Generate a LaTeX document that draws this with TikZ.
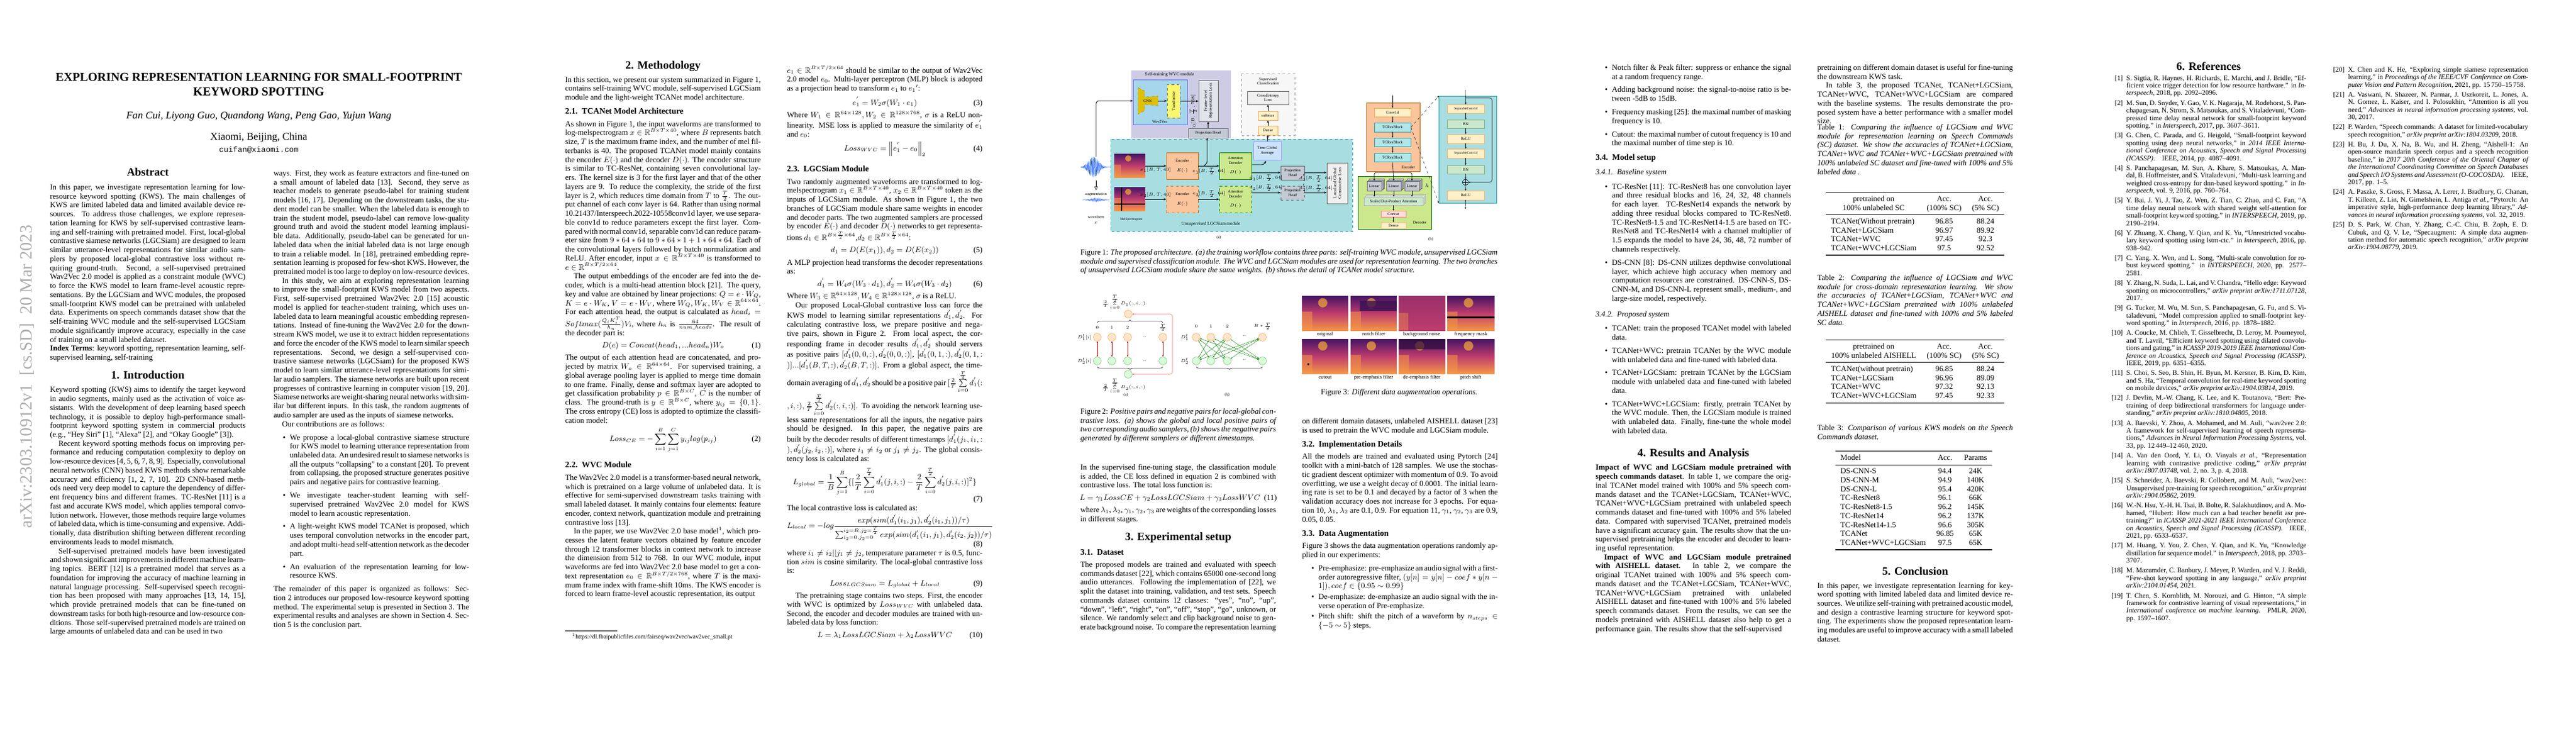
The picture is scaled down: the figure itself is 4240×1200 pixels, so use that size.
\documentclass[tikz,border=0pt]{standalone}
\usepackage{fontspec}
\usepackage{amsmath,amssymb}
\usepackage{booktabs}
\usepackage{enumitem}
\setmainfont{Liberation Serif}
\setmonofont{Liberation Mono}
\usetikzlibrary{arrows.meta,decorations.pathreplacing,calc}
\setlist[itemize]{leftmargin=2.1em,itemsep=5pt,topsep=5pt,parsep=0pt,partopsep=0pt,label=\textbullet}
\newcommand\bodyfont{\fontsize{9}{10.35}\selectfont}
\newcommand\figfont{\fontsize{4.6}{5.2}\selectfont}
\newcommand\secH[1]{\par\vspace{7pt}{\centering\fontsize{13}{15}\selectfont\bfseries #1\par}\vspace{5pt}}
\newcommand\subH[1]{\par\vspace{6pt}\noindent{\fontsize{9.6}{11}\selectfont\bfseries #1}\par\vspace{4pt}}
\newcommand\subsubH[1]{\par\vspace{3pt}\noindent{\itshape #1}\par\vspace{1pt}}
\newcommand\eqline[2]{\par\vspace{4pt}\noindent\makebox[\linewidth]{\hspace{2em}\hfill$\displaystyle #1$\hfill\makebox[2em][r]{#2}}\par\vspace{4pt}}
\newcommand\colnode[4]{\node[anchor=north west,inner sep=0pt] (#1) at (#2,#3) {\begin{minipage}[t]{226pt}\bodyfont\parindent=1.1em #4\end{minipage}};}
\newcommand\bibi[2]{\par\noindent\hangindent=18pt\hangafter=0 \llap{[#1]\hspace{4pt}}#2\par\vspace{2.6pt}}
\newcommand\bx[7][]{\node[#1,minimum width={(#5-#3)*0.70198pt},minimum height={(#6-#4)*0.70198pt}] (#2) at ({(#3+#5)/2},{(#4+#6)/2}) {#7};}
\definecolor{wvcbg}{RGB}{206,204,228}
\definecolor{tealbg}{RGB}{168,222,226}
\definecolor{tealdk}{RGB}{40,160,170}
\definecolor{wavbox}{RGB}{166,214,236}
\definecolor{cnny}{RGB}{222,192,10}
\definecolor{trany}{RGB}{250,246,110}
\definecolor{grayb}{RGB}{196,202,212}
\definecolor{encor}{RGB}{250,196,156}
\definecolor{decgr}{RGB}{204,232,140}
\definecolor{tgab}{RGB}{204,226,250}
\definecolor{lyel}{RGB}{255,240,200}
\definecolor{lcyan}{RGB}{178,230,232}
\definecolor{lgrn}{RGB}{204,232,204}
\definecolor{spA}{RGB}{70,20,100}
\definecolor{spB}{RGB}{190,60,110}
\definecolor{spC}{RGB}{245,150,70}
\newcommand\spec[5]{%
 \shade[top color=spA,bottom color=spC,middle color=spB] (#1,#2) rectangle (#3,#4);
 \fill[spC,opacity=.55] (#1,{#2+0.45*(#4-#2)}) rectangle ({#1+0.22*(#3-#1)},#4);
 \fill[spC!80!yellow,opacity=.7] ({#1+0.45*(#3-#1)},{#2+0.2*(#4-#2)}) circle ({0.1*(#3-#1)});
 #5}
\tikzset{
 fb/.style={draw,inner sep=0pt,font=\figfont,align=center,line width=0.4pt},
 arr/.style={-{Stealth[length=3pt,width=2.4pt]},line width=0.6pt},
 sarr/.style={-{Stealth[length=2pt,width=1.8pt]},line width=0.4pt},
 lbl/.style={font=\figfont,inner sep=0.5pt,align=center},
 circO/.style={circle,draw=orange!80,fill=orange!20,minimum size=9pt,inner sep=0pt,line width=0.3pt},
 circG/.style={circle,draw=green!50!black!60,fill=green!15,minimum size=9pt,inner sep=0pt,line width=0.3pt}
}
\begin{document}
\begin{tikzpicture}[x=0.70198pt,y=-0.70198pt]
\useasboundingbox (0,0) rectangle (4240,1200);
\fill[white] (0,0) rectangle (4240,1200);

%================ PAGE 1 =================
\node[rotate=90,text=gray!65,font=\fontsize{20}{20}\selectfont] (stamp) at (45,620) {arXiv:2303.10912v1\ \ [cs.SD]\ \ 20 Mar 2023};
\node[align=center,font=\fontsize{14}{16.5}\selectfont\bfseries] (title) at (426,139) {EXPLORING REPRESENTATION LEARNING FOR SMALL-FOOTPRINT\\KEYWORD SPOTTING};
\node[font=\fontsize{12}{14}\selectfont\itshape] (auth) at (426,191) {Fan Cui, Liyong Guo, Quandong Wang, Peng Gao, Yujun Wang};
\node[font=\fontsize{12}{14}\selectfont] (aff) at (426,226) {Xiaomi, Beijing, China};
\node[font=\fontsize{9}{10}\ttfamily] (mail) at (426,247) {cuifan@xiaomi.com};

\colnode{p1a}{82}{276}{%
{\centering\fontsize{13}{15}\selectfont\bfseries Abstract\par}\vspace{6pt}
\noindent In this paper, we investigate representation learning for low-resource keyword spotting (KWS). The main challenges of KWS are limited labeled data and limited available device resources. To address those challenges, we explore representation learning for KWS by self-supervised contrastive learning and self-training with pretrained model. First, local-global contrastive siamese networks (LGCSiam) are designed to learn similar utterance-level representations for similar audio samplers by proposed local-global contrastive loss without requiring ground-truth. Second, a self-supervised pretrained Wav2Vec 2.0 model is applied as a constraint module (WVC) to force the KWS model to learn frame-level acoustic representations. By the LGCSiam and WVC modules, the proposed small-footprint KWS model can be pretrained with unlabeled data. Experiments on speech commands dataset show that the self-training WVC module and the self-supervised LGCSiam module significantly improve accuracy, especially in the case of training on a small labeled dataset.\par
\noindent\textbf{Index Terms}: keyword spotting, representation learning, self-supervised learning, self-training
\secH{1. Introduction}
\noindent Keyword spotting (KWS) aims to identify the target keyword in audio segments, mainly used as the activation of voice assistants. With the development of deep learning based speech technology, it is possible to deploy high-performance small-footprint keyword spotting system in commercial products (e.g., ``Hey Siri'' [1], ``Alexa'' [2], and ``Okay Google'' [3]).

Recent keyword spotting methods focus on improving performance and reducing computation complexity to deploy on low-resource devices [4, 5, 6, 7, 8, 9]. Especially, convolutional neural networks (CNN) based KWS methods show remarkable accuracy and efficiency [1, 2, 7, 10]. 2D CNN-based methods need very deep model to capture the dependency of different frequency bins and different frames. TC-ResNet [11] is a fast and accurate KWS model, which applies temporal convolution network. However, those methods require large volumes of labeled data, which is time-consuming and expensive. Additionally, data distribution shifting between different recording environments leads to model mismatch.

Self-supervised pretrained models have been investigated and shown significant improvements in different machine learning topics. BERT [12] is a pretrained model that serves as a foundation for improving the accuracy of machine learning in natural language processing. Self-supervised speech recognition has been proposed with many approaches [13, 14, 15], which provide pretrained models that can be fine-tuned on downstream tasks for both high-resource and low-resource conditions. Those self-supervised pretrained models are trained on large amounts of unlabeled data and can be used in two}

\colnode{p1b}{450}{280}{%
\noindent ways. First, they work as feature extractors and fine-tuned on a small amount of labeled data [13]. Second, they serve as teacher models to generate pseudo-label for training student models [16, 17]. Depending on the downstream tasks, the student model can be smaller. When the labeled data is enough to train the student model, pseudo-label can remove low-quality ground truth and avoid the student model learning implausible data. Additionally, pseudo-label can be generated for unlabeled data when the initial labeled data is not large enough to train a reliable model. In [18], pretrained embedding representation learning is proposed for few-shot KWS. However, the pretrained model is too large to deploy on low-resource devices.

In this study, we aim at exploring representation learning to improve the small-footprint KWS model from two aspects. First, self-supervised pretrained Wav2Vec 2.0 [15] acoustic model is applied for teacher-student training, which uses unlabeled data to learn meaningful acoustic embedding representations. Instead of fine-tuning the Wav2Vec 2.0 for the downstream KWS model, we use it to extract hidden representations and force the encoder of the KWS model to learn similar speech representations. Second, we design a self-supervised contrastive siamese networks (LGCSiam) for the proposed KWS model to learn similar utterance-level representations for similar audio samplers. The siamese networks are built upon recent progresses of contrastive learning in computer vision [19, 20]. Siamese networks are weight-sharing neural networks with similar but different inputs. In this task, the random augments of audio sampler are used as the inputs of siamese networks.

Our contributions are as follows:
\begin{itemize}
\item We propose a local-global contrastive siamese structure for KWS model to learning utterance representation from unlabeled data. An undesired result to siamese networks is all the outputs ``collapsing'' to a constant [20]. To prevent from collapsing, the proposed structure generates positive pairs and negative pairs for contrastive learning.
\item We investigate teacher-student learning with self-supervised pretrained Wav2Vec 2.0 model for KWS model to learn acoustic representation.
\item A light-weight KWS model TCANet is proposed, which uses temporal convolution networks in the encoder part, and adopt multi-head self-attention network as the decoder part.
\item An evaluation of the representation learning for low-resource KWS.
\end{itemize}
The remainder of this paper is organized as follows: Section 2 introduces our proposed low-resource keyword spotting method. The experimental setup is presented in Section 3. The experimental results and analyses are shown in Section 4. Section 5 is the conclusion part.}

%================ PAGE 2 =================
\colnode{p2a}{930}{100}{%
{\centering\fontsize{13}{15}\selectfont\bfseries 2. Methodology\par}\vspace{5pt}
\noindent In this section, we present our system summarized in Figure 1, contains self-training WVC module, self-supervised LGCSiam module and the light-weight TCANet model architecture.
\subH{2.1.\ \ TCANet Model Architecture}
\noindent As shown in Figure 1, the input waveforms are transformed to log-melspectrogram $x\in\mathbb{R}^{B\times T\times 40}$, where $B$ represents batch size, $T$ is the maximum frame index, and the number of mel filterbanks is 40. The proposed TCANet model mainly contains the encoder $E(\cdot)$ and the decoder $D(\cdot)$. The encoder structure is similar to TC-ResNet, containing seven convolutional layers. The kernel size is 3 for the first layer and that of the other layers are 9. To reduce the complexity, the stride of the first layer is 2, which reduces time domain from $T$ to $\frac{T}{2}$. The output channel of each conv layer is 64. Rather than using normal 10.21437/Interspeech.2022-10558conv1d layer, we use separable conv1d to reduce parameters except the first layer. Compared with normal conv1d, separable conv1d can reduce parameter size from $9*64*64$ to $9*64*1+1*64*64$. Each of the convolutional layers followed by batch normalization and ReLU. After encoder, input $x\in\mathbb{R}^{B\times T\times 40}$ is transformed to $e\in\mathbb{R}^{B\times T/2\times 64}$.

The output embeddings of the encoder are fed into the decoder, which is a multi-head attention block [21]. The query, key and value are obtained by linear projections: $Q=e\cdot W_Q$, $K=e\cdot W_K$, $V=e\cdot W_V$, where $W_Q,W_K,W_V\in\mathbb{R}^{64\times 64}$. For each attention head, the output is calculated as $head_i = Softmax(\frac{Q_iK_i^T}{h_n})V_i$, where $h_n$ is $\frac{64}{num\_heads}$. The result of the decoder part is:
\eqline{D(e)=Concat(head_1,...head_n)W_o}{(1)}
\noindent The output of each attention head are concatenated, and projected by matrix $W_o\in\mathbb{R}^{64\times 64}$. For supervised training, a global average pooling layer is applied to merge time domain to one frame. Finally, dense and softmax layer are adopted to get classification probability $p\in\mathbb{R}^{B\times C}$, $C$ is the number of class. The ground-truth is $y\in\mathbb{R}^{B\times C}$, where $y_{ij}=\{0,1\}$. The cross entropy (CE) loss is adopted to optimize the classification model:
\eqline{Loss_{CE}=-\sum_{i=1}^{B}\sum_{j=1}^{C}y_{ij}log(p_{ij})}{(2)}
\subH{2.2.\ \ WVC Module}
\noindent The Wav2Vec 2.0 model is a transformer-based neural network, which is pretrained on a large volume of unlabeled data. It is effective for semi-supervised downstream tasks training with small labeled dataset. It mainly contains four elements: feature encoder, context network, quantization module and pretraining contrastive loss [13].

In the paper, we use Wav2Vec 2.0 base model$^1$, which processes the latent feature vectors obtained by feature encoder through 12 transformer blocks in context network to increase the dimension from 512 to 768. In our WVC module, input waveforms are fed into Wav2Vec 2.0 base model to get a context representation $e_0\in\mathbb{R}^{B\times T/2\times 768}$, where $T$ is the maximum frame index with frame-shift 10ms. The KWS encoder is forced to learn frame-level acoustic representation, its output}
\node[anchor=north west,inner sep=0pt] (fn) at (930,1038) {\begin{minipage}{226pt}\rule{60pt}{0.4pt}\\[1pt]\fontsize{7}{8}\selectfont\hspace*{8pt}$^1$https://dl.fbaipublicfiles.com/fairseq/wav2vec/wav2vec\_small.pt\end{minipage}};

\colnode{p2b}{1295}{108}{%
\noindent $e_1\in\mathbb{R}^{B\times T/2\times 64}$ should be similar to the output of Wav2Vec 2.0 model $e_0$. Multi-layer perceptron (MLP) block is adopted as a projection head to transform $e_1$ to ${e_1}'$:
\eqline{e_1^{'}=W_2\sigma(W_1\cdot e_1)}{(3)}
\noindent Where $W_1\in\mathbb{R}^{64\times 128},W_2\in\mathbb{R}^{128\times 768}$, $\sigma$ is a ReLU non-linearity. MSE loss is applied to measure the similarity of $e_1^{'}$ and $e_0$:
\eqline{Loss_{WVC}=\left\|e_1^{'}-e_0\right\|_2}{(4)}
\subH{2.3.\ \ LGCSiam Module}
\noindent Two randomly augmented waveforms are transformed to log-melspectrogram $x_1\in\mathbb{R}^{B\times T\times 40}$, $x_2\in\mathbb{R}^{B\times T\times 40}$ token as the inputs of LGCSiam module. As shown in Figure 1, the two branches of LGCSiam module share same weights in encoder and decoder parts. The two augmented samplers are processed by encoder $E(\cdot)$ and decoder $D(\cdot)$ networks to get representations $d_1\in\mathbb{R}^{B\times\frac{T}{2}\times 64}$,$d_2\in\mathbb{R}^{B\times\frac{T}{2}\times 64}$:
\eqline{d_1=D(E(x_1)),d_2=D(E(x_2))}{(5)}
\noindent A MLP projection head transforms the decoder representations as:
\eqline{d_1^{'}=W_4\sigma(W_3\cdot d_1),d_2^{'}=W_4\sigma(W_3\cdot d_2)}{(6)}
\noindent Where $W_3\in\mathbb{R}^{64\times 128},W_4\in\mathbb{R}^{128\times 128}$, $\sigma$ is a ReLU.

Our proposed Local-Global contrastive loss can force the KWS model to learning similar representations $d_1^{'},d_2^{'}$. For calculating contrastive loss, we prepare positive and negative pairs, shown in Figure 2. From local aspect, the corresponding frame in decoder results $d_1^{'},d_2^{'}$ should servers as positive pairs $[d_1^{'}(0,0,:),d_2^{'}(0,0,:)]$, $[d_1^{'}(0,1,:),d_2^{'}(0,1,:)]...[d_1^{'}(B,T,:),d_2^{'}(B,T,:)]$. From a global aspect, the time-domain averaging of $d_1^{'},d_2^{'}$ should be a positive pair $[\frac{2}{T}\sum\limits_{i=0}^{\frac{T}{2}}d_1^{'}(:,i,:),\frac{2}{T}\sum\limits_{i=0}^{\frac{T}{2}}d_2^{'}(:,i,:)]$. To avoiding the network learning useless same representations for all the inputs, the negative pairs should be designed. In this paper, the negative pairs are built by the decoder results of different timestamps $[d_1^{'}(j_1,i_1,:),d_2^{'}(j_2,i_2,:)]$, where $i_1\neq i_2$ or $j_1\neq j_2$. The global consistency loss is calculated as:
\eqline{L_{global}=\frac{1}{B}\sum_{j=1}^{B}\{[\frac{2}{T}\sum_{i=0}^{\frac{T}{2}}d_1^{'}(j,i,:)-\frac{2}{T}\sum_{i=0}^{\frac{T}{2}}d_2^{'}(j,i,:)]^2\}}{}
\vspace{-4pt}\noindent\hfill(7)\par
\noindent The local contrastive loss is calculated as:
\par\vspace{4pt}\noindent\makebox[\linewidth][l]{$\displaystyle L_{local}=-log\frac{exp(sim(d_1^{'}(i_1,j_1),d_2^{'}(i_1,j_1))/\tau)}{\sum_{i_2=0,j_2=0}^{i_2=B,j_2=\frac{T}{2}}exp(sim(d_1^{'}(i_1,j_1),d_2^{'}(i_2,j_2))/\tau)}$}\par
\noindent\hfill(8)\par
\noindent where $i_1\neq i_2||j_1\neq j_2$, temperature parameter $\tau$ is 0.5, function $sim$ is cosine similarity. The local-global contrastive loss is:
\eqline{Loss_{LGCSiam}=L_{global}+L_{local}}{(9)}
The pretraining stage contains two steps. First, the encoder with WVC is optimized by $Loss_{WVC}$ with unlabeled data. Second, the encoder and decoder modules are trained with unlabeled data by loss function:
\eqline{L=\lambda_1LossLGCSiam+\lambda_2LossWVC}{(10)}}

%================ PAGE 3 : Figure 1 =================
\fill[wvcbg] (1862,116) rectangle (2026,228);
\node[lbl,font=\fontsize{5.2}{6}\selectfont] (wvct) at (1925,123) {Self-training WVC module};
\fill[tealbg] (1828,229) rectangle (2226,381);
\draw[tealdk,dashed,line width=0.4pt] (1828,229) rectangle (2226,381);
\node[lbl,font=\fontsize{5.2}{6}\selectfont] (lgct) at (1993,369) {Unsupervised LGCSiam module};
\bx[fb,draw=blue!60,fill=wavbox]{w2v}{1865}{131}{1954}{205}{}
\node[lbl] (w2vl) at (1909,200) {Wav2Vec};
\filldraw[fill=cnny,draw=cnny!70!black,dashed,line width=0.3pt] (1873,144) -- (1884,150) -- (1884,160) -- (1906,158) -- (1906,174) -- (1884,172) -- (1884,182) -- (1873,188) -- cycle;
\node[lbl] (cnn) at (1889,166) {CNN};
\bx[fb,fill=trany,dashed,draw=black!60]{trf}{1921}{139}{1942}{194}{}
\node[lbl,rotate=90] (trft) at (trf) {Transformer};
\bx[fb,fill=grayb!50,draw=black!60]{frl}{1973}{132}{2005}{200}{}
\node[lbl,rotate=90,font=\fontsize{5}{5.6}\selectfont] (frlt) at (frl) {Frame-level\\Representation Loss};
\node[lbl,rotate=90,font=\fontsize{3.6}{4}\selectfont] (e0l) at (1964,185) {$e_0[B,\frac{T}{2},768]$};
\bx[fb,fill=grayb,draw=black!60]{ph0}{1956}{211}{2021}{227}{Projection Head}
\draw[dashed,draw=black!40,fill=gray!6] (2043,121) rectangle (2131,223);
\node[lbl] (supt) at (2087,134) {Supervised\\Classification};
\bx[fb,fill=gray!12,draw=black!60]{ce}{2053}{150}{2121}{172}{CrossEntropy\\Loss}
\bx[fb,fill=lyel,draw=orange!70]{smx}{2071}{183}{2103}{198}{softmax}
\bx[fb,fill=lyel,draw=orange!70]{dns}{2071}{207}{2103}{222}{Dense}
\bx[fb,fill=tgab,draw=blue!40]{tga}{2063}{233}{2109}{263}{Time Global\\Average}
\draw[arr] (trf.east) -- (frl.west |- trf.east);
\draw[arr] (1906,166) -- (trf.west |- 0,166);
\draw[arr] (ph0.north) -- (ph0.north |- frl.south);
\draw[arr] (dns.north) -- (smx.south);
\draw[arr] (smx.north) -- (ce.south);
\draw[arr] (tga.north) -- (dns.south);
% waveform
\draw[blue!70!cyan,line width=0.35pt] plot[domain=1779:1828,samples=140] (\x,{275+17*exp(-((\x-1800)/11)^2)*sin((\x-1779)*157)});
\draw[blue!70!cyan,line width=0.3pt] plot[domain=1782:1826,samples=90] (\x,{329+3*exp(-((\x-1804)/12)^2)*sin((\x-1779)*157)});
\coordinate (wtop) at (1804,258);
\draw[arr,rounded corners=3pt] (wtop) -- (1804,166) -- (w2v.west |- 0,166);
\draw[-{Triangle[open,length=4pt,width=4pt]},line width=0.4pt] (1804,297) -- (1804,313);
\node[lbl] (augl) at (1804,320) {augmentation};
\node[lbl] (wavl) at (1804,357) {waveform};
\node[lbl] (xl) at (1804,367) {$x$};
\spec{1834}{253}{1885}{292}{}
\spec{1834}{308}{1885}{347}{\draw[black,line width=1.2pt] (1846,308) -- (1846,347); \draw[black,line width=1.2pt] (1834,336) -- (1885,336);}
\coordinate (sp1) at (1885,273);
\coordinate (sp2) at (1885,328);
\node[lbl,font=\fontsize{3.8}{4}\selectfont] (mell) at (1862,361) {MelSpectrogram};
\bx[fb,fill=encor,draw=orange!80!black]{enc1}{1920}{251}{1972}{295}{Encoder\\[6pt]$E(\cdot)$}
\bx[fb,fill=encor,draw=orange!80!black,dashed]{enc2}{1920}{306}{1972}{350}{Encoder\\[6pt]$E(\cdot)$}
\bx[fb,fill=decgr,draw=green!50!black]{dec1}{2007}{251}{2060}{295}{Attention\\Decoder\\[6pt]$D(\cdot)$}
\bx[fb,fill=decgr,draw=green!50!black,dashed]{dec2}{2007}{306}{2060}{350}{Attention\\Decoder\\[6pt]$D(\cdot)$}
\bx[fb,fill=grayb,draw=black!60]{ph1}{2108}{273}{2147}{296}{Projection\\Head}
\bx[fb,fill=grayb,draw=black!60,dashed]{ph2}{2108}{306}{2147}{329}{Projection\\Head}
\bx[fb,fill=gray!12,draw=black!60]{lgl}{2184}{268}{2218}{335}{}
\node[lbl,rotate=90,font=\fontsize{5}{5.6}\selectfont] (lglt) at (lgl) {Local and Global\\Constractive Loss};
\draw[arr] (sp1) -- (enc1.west |- sp1);
\draw[arr] (sp2) -- (enc2.west |- sp2);
\draw[arr] (enc1.east |- 0,273) -- (dec1.west |- 0,273);
\draw[arr] (enc2.east |- 0,328) -- (dec2.west |- 0,328);
\draw[arr,rounded corners=2pt] (1982,273) -- (1987,268) -- (1987,227);
\draw[arr,rounded corners=2pt] (dec1.east |- 0,271) -- (2080,271) -- (2084,265);
\draw[arr] (dec1.east |- 0,284) -- (ph1.west |- 0,284);
\draw[arr] (dec2.east |- 0,317) -- (ph2.west |- 0,317);
\draw[arr] (ph1.east |- 0,284) -- (lgl.west |- 0,284);
\draw[arr] (ph2.east |- 0,317) -- (lgl.west |- 0,317);
\node[lbl,font=\fontsize{3.6}{4}\selectfont] (x1l) at (1902,280) {$x_1[B,T,40]$};
\node[lbl,font=\fontsize{3.6}{4}\selectfont] (x2l) at (1902,321) {$x_2[B,T,40]$};
\node[lbl,font=\fontsize{3.6}{4}\selectfont] (e1l) at (1990,282) {$e_1[B,\frac{T}{2},64]$};
\node[lbl,font=\fontsize{3.6}{4}\selectfont] (e2l) at (1990,319) {$e_2[B,\frac{T}{2},64]$};
\node[lbl,font=\fontsize{3.6}{4}\selectfont] (d1l) at (2084,293) {$d_1[B,\frac{T}{2},64]$};
\node[lbl,font=\fontsize{3.6}{4}\selectfont] (d2l) at (2084,309) {$d_2[B,\frac{T}{2},64]$};
\node[lbl,font=\fontsize{3.6}{4}\selectfont] (d1pl) at (2166,293) {$d_1^{'}[B,\frac{T}{2},64]$};
\node[lbl,font=\fontsize{3.6}{4}\selectfont] (d2pl) at (2166,309) {$d_2^{'}[B,\frac{T}{2},64]$};
\node[lbl] (fa) at (2006,391) {(a)};
% (b)
\fill[encor] (2249,169) rectangle (2337,282); \draw[orange!70!black,line width=0.3pt] (2249,169) rectangle (2337,282);
\node[lbl] (encl) at (2318,275) {Encoder};
\bx[fb,fill=lyel,draw=orange!70]{cv}{2262}{178}{2322}{192}{Conv1d}
\bx[fb,fill=lcyan,draw=tealdk]{tc1}{2262}{202}{2322}{217}{TCResBlock}
\bx[fb,fill=lcyan,draw=tealdk]{tc2}{2262}{227}{2322}{241}{TCResBlock}
\bx[fb,fill=lcyan,draw=tealdk]{tc3}{2262}{252}{2322}{266}{TCResBlock}
\coordinate (bin) at (2292,157);
\draw[sarr] (bin) -- (cv.north);
\draw[sarr] (cv.south) -- (tc1.north);
\draw[sarr] (tc1.south) -- (tc2.north);
\draw[sarr] (tc2.south) -- (tc3.north);
\fill[decgr] (2235,290) rectangle (2356,377); \draw[green!45!black,line width=0.3pt] (2235,290) rectangle (2356,377);
\node[lbl] (decl) at (2337,366) {Decoder};
\foreach \a/\n in {2250/la,2282/lb,2312/lc}{
 \draw[fill=grayb,draw=black!60,line width=0.3pt] (\a+4,294) rectangle (\a+28,310);
 \draw[fill=grayb,draw=black!60,line width=0.3pt] (\a+2,296) rectangle (\a+26,312);
 \bx[fb,fill=grayb,draw=black!60]{\n}{\a}{298}{\a+24}{314}{Linear}
}
\draw[fill=lgrn,draw=black!30,line width=0.3pt] (2249,320) rectangle (2346,334);
\draw[fill=lgrn,draw=black!30,line width=0.3pt] (2247,322) rectangle (2344,336);
\bx[fb,fill=lgrn,draw=black!30]{sdp}{2245}{324}{2342}{338}{Scaled Dot-Product Attention}
\node[lbl,font=\fontsize{6}{6}\selectfont] (hl) at (2349,306) {$h$};
\bx[fb,fill=red!12,draw=red!50]{cat}{2273}{347}{2314}{357}{Concat}
\bx[fb,fill=lyel,draw=orange!50]{dn2}{2273}{366}{2314}{376}{Dense}
\draw[sarr] (tc3.south) -- (lb.north);
\draw[sarr,rounded corners=2pt] (2292,284) -- (2262,284) -- (la.north);
\draw[sarr,rounded corners=2pt] (2292,284) -- (2324,284) -- (lc.north);
\draw[sarr] (la.south) -- (la.south |- sdp.north);
\draw[sarr] (lb.south) -- (lb.south |- sdp.north);
\draw[sarr] (lc.south) -- (lc.south |- sdp.north);
\draw[sarr] (sdp.south -| cat.north) -- (cat.north);
\draw[sarr] (cat.south) -- (dn2.north);
\fill[tealbg] (2368,158) rectangle (2463,334); \draw[tealdk,line width=0.4pt] (2368,158) rectangle (2463,334);
\bx[fb,fill=lyel,draw=orange!60,font=\fontsize{3.8}{4}\selectfont]{s1}{2382}{172}{2443}{186}{SeparableConv1d}
\bx[fb,fill=lgrn,draw=green!40!black!50]{b1}{2382}{197}{2443}{211}{BN}
\bx[fb,fill=lyel,draw=orange!60]{r1}{2382}{221}{2443}{236}{ReLU}
\bx[fb,fill=lyel,draw=orange!60,font=\fontsize{3.8}{4}\selectfont]{s2}{2382}{245}{2443}{260}{SeparableConv1d}
\bx[fb,fill=lgrn,draw=green!40!black!50]{b2}{2382}{272}{2443}{286}{BN}
\node[circle,draw,inner sep=0pt,minimum size=7pt,line width=0.4pt] (plus) at (2412,300) {};
\draw[line width=0.4pt] (plus.north) -- (plus.south) (plus.west) -- (plus.east);
\bx[fb,fill=lyel,draw=orange!60]{r2}{2382}{314}{2443}{329}{ReLU}
\coordinate (din) at (2412,148);
\coordinate (dout) at (2412,344);
\draw[sarr] (din) -- (s1.north);
\draw[sarr] (s1.south) -- (b1.north);
\draw[sarr] (b1.south) -- (r1.north);
\draw[sarr] (r1.south) -- (s2.north);
\draw[sarr] (s2.south) -- (b2.north);
\draw[sarr] (b2.south) -- (plus.north);
\draw[sarr] (plus.south) -- (r2.north);
\draw[sarr] (r2.south) -- (dout);
\draw[sarr,rounded corners=3pt] (2412,161) -- (2456,161) -- (2456,300) -- (plus.east);
\draw[sarr,dashed,line width=0.3pt] (tc1.east) -- (2368,158);
\draw[sarr,dashed,line width=0.3pt] (tc1.east) -- (2368,334);
\node[lbl] (fb) at (2355,394) {(b)};
\node[anchor=north west,inner sep=0pt] (cap1) at (1778,410) {\begin{minipage}[t]{482pt}\bodyfont Figure 1: \textit{The proposed architecture. (a) the training workflow contains three parts: self-training WVC module, unsupervised LGCSiam module and supervised classification module. The WVC and LGCSiam modules are used for representation learning. The two branches of unsupervised LGCSiam module share the same weights. (b) shows the detail of TCANet model structure.}\end{minipage}};

%================ Figure 2 =================
\node[circO] (gt) at (1857,517) {};
\node[circG] (gb) at (1857,616) {};
\foreach \xx/\n/\t in {1806/a0/0,1830/a1/1,1856/a2/2,1914/a3/{\frac{T}{2}}}{
 \node[circO] (t\n) at (\xx,555) {};
 \node[circG] (b\n) at (\xx,594) {};
 \draw[{Stealth[length=2pt]}-{Stealth[length=2pt]},red!70!black,line width=0.35pt] (t\n) -- (b\n);
 \node[lbl,font=\fontsize{3.5}{4}\selectfont] (i\n) at (\xx,539) {$\t$};
}
\node[lbl] (tdots) at (1884,555) {...};
\node[lbl] (bdots) at (1884,594) {...};
\draw[line width=0.35pt,decorate,decoration={brace,amplitude=3pt}] (1806,531) -- (1914,531);
\draw[line width=0.35pt,decorate,decoration={brace,amplitude=3pt,mirror}] (1806,604) -- (1914,604);
\draw[{Stealth[length=2.5pt]}-{Stealth[length=2.5pt]},red!60,line width=0.4pt,rounded corners=3pt] (gt.east) -- (1930,517) -- (1930,616) -- (gb.east);
\node[lbl,font=\fontsize{3.5}{4}\selectfont] (gtl) at (1850,497) {$\frac{2}{T}\sum\limits_{i=0}^{\frac{T}{2}}D_1(:,i,:)$};
\node[lbl,font=\fontsize{3.5}{4}\selectfont] (gbl) at (1850,635) {$\frac{2}{T}\sum\limits_{i=0}^{\frac{T}{2}}D_2(:,i,:)$};
\node[lbl,font=\fontsize{3.5}{4}\selectfont] (d1a) at (1785,555) {$D_1^t[i]$};
\node[lbl,font=\fontsize{3.5}{4}\selectfont] (d2a) at (1785,594) {$D_2^t[i]$};
\foreach \xx/\n/\t in {1969/c0/0,1993/c1/1,2020/c2/2,2078/c3/{B*\frac{T}{2}}}{
 \node[circO] (u\n) at (\xx,555) {};
 \node[circG] (v\n) at (\xx,594) {};
 \node[lbl,font=\fontsize{3.5}{4}\selectfont] (j\n) at (\xx,537) {$\t$};
}
\node[lbl] (udots) at (2048,553) {...};
\node[lbl] (vdots) at (2048,592) {...};
\foreach \p/\q in {c0/c1,c0/c2,c0/c3,c1/c0,c1/c2,c1/c3,c2/c0,c2/c1,c2/c3,c3/c0,c3/c1,c3/c2}{
 \draw[{Stealth[length=2pt]}-{Stealth[length=2pt]},green!50!black,line width=0.3pt] (u\p) -- (v\q);
}
\draw[line width=0.35pt,decorate,decoration={brace,amplitude=3pt,mirror}] (1969,604) -- (2078,604);
\node[lbl,font=\fontsize{3.5}{4}\selectfont] (d1b) at (1950,555) {$D_1^t$};
\node[lbl,font=\fontsize{3.5}{4}\selectfont] (d2b) at (1950,594) {$D_2^t$};
\node[lbl] (f2a) at (1853,650) {(a)};
\node[lbl] (f2b) at (2020,650) {(b)};
\node[anchor=north west,inner sep=0pt] (cap2) at (1778,672) {\begin{minipage}[t]{226pt}\bodyfont Figure 2: \textit{Positive pairs and negative pairs for local-global contrastive loss. (a) shows the global and local positive pairs of two corresponding audio samplers, (b) shows the negative pairs generated by different samplers or different timestamps.}\end{minipage}};

%================ Figure 3 =================
\spec{2143}{487}{2219}{544}{}
\spec{2223}{487}{2299}{544}{\fill[spA!80!black,opacity=.8] (2238,495) rectangle (2299,512);}
\shade[top color=spB!70!spA,bottom color=spB] (2302,487) rectangle (2379,544);
\fill[spC,opacity=.4] (2302,515) rectangle (2318,544);
\spec{2382}{487}{2460}{544}{\fill[black] (2382,521) rectangle (2460,524);}
\spec{2143}{558}{2219}{615}{\fill[black] (2152,598) rectangle (2155,601);}
\spec{2223}{558}{2299}{615}{}
\spec{2302}{558}{2379}{615}{\fill[spA!60!black,opacity=.7] (2302,558) rectangle (2379,575);}
\spec{2382}{558}{2460}{615}{}
\foreach \xx/\yy/\t in {2181/550/original,2261/550/notch filter,2340/550/background noise,2421/550/frequency mask,2181/621/cutout,2261/621/pre-emphasis filter,2340/621/de-emphasis filter,2421/621/pitch shift}{
 \node[font=\fontsize{6}{7}\selectfont,inner sep=0pt] at (\xx,\yy) {\t};
}
\node[font=\bodyfont] (cap3) at (2303,646) {Figure 3: \textit{Different data augmentation operations.}};

\colnode{p3a}{1778}{764}{%
\noindent In the supervised fine-tuning stage, the classification module is added, the CE loss defined in equation 2 is combined with contrastive loss. The total loss function is:
\par\vspace{4pt}\noindent\makebox[\linewidth]{\hfill$L=\gamma_1LossCE+\gamma_2LossLGCSiam+\gamma_3LossWVC$\ \ (11)}\par\vspace{4pt}
\noindent where $\lambda_1$, $\lambda_2$, $\gamma_1$, $\gamma_2$, $\gamma_3$ are weights of the corresponding losses in different stages.
\secH{3. Experimental setup}
\vspace{-5pt}\subH{3.1.\ \ Dataset}
\noindent The proposed models are trained and evaluated with speech commands dataset [22], which contains 65000 one-second long audio utterances. Following the implementation of [22], we split the dataset into training, validation, and test sets. Speech commands dataset contains 12 classes: ``yes'', ``no'', ``up'', ``down'', ``left'', ``right'', ``on'', ``off'', ``stop'', ``go'', unknown, or silence. We randomly select and clip background noise to generate background noise. To compare the representation learning}

\colnode{p3b}{2143}{688}{%
\noindent on different domain datasets, unlabeled AISHELL dataset [23] is used to pretrain the WVC module and LGCSiam module.
\subH{3.2.\ \ Implementation Details}
\noindent All the models are trained and evaluated using Pytorch [24] toolkit with a mini-batch of 128 samples. We use the stochastic gradient descent optimizer with momentum of 0.9. To avoid overfitting, we use a weight decay of 0.0001. The initial learning rate is set to be 0.1 and decayed by a factor of 3 when the validation accuracy does not increase for 3 epochs. For equation 10, $\lambda_1$, $\lambda_2$ are 0.1, 0.9. For equation 11, $\gamma_1$, $\gamma_2$, $\gamma_3$ are 0.9, 0.05, 0.05.
\subH{3.3.\ \ Data Augmentation}
\noindent Figure 3 shows the data augmentation operations randomly applied in our experiments:
\begin{itemize}[itemsep=2pt]
\item Pre-emphasize: pre-emphasize an audio signal with a first-order autoregressive filter, $(y[n]=y[n]-coef*y[n-1]),coef\in\{0.95\sim0.99\}$
\item De-emphasize: de-emphasize an audio signal with the inverse operation of Pre-emphasize.
\item Pitch shift: shift the pitch of a waveform by $n_{steps}\in\{-5\sim5\}$ steps.
\end{itemize}}

%================ PAGE 4 =================
\colnode{p4a}{2626}{106}{%
\begin{itemize}[topsep=0pt]
\item Notch filter \& Peak filter: suppress or enhance the signal at a random frequency range.
\item Adding background noise: the signal-to-noise ratio is between -5dB to 15dB.
\item Frequency masking [25]: the maximal number of masking frequency is 10.
\item Cutout: the maximal number of cutout frequency is 10 and the maximal number of time step is 10.
\end{itemize}
\subH{3.4.\ \ Model setup}
\subsubH{3.4.1.\ \ Baseline system}
\begin{itemize}
\item TC-ResNet [11]: TC-ResNet8 has one convolution layer and three residual blocks and 16, 24, 32, 48 channels for each layer. TC-ResNet14 expands the network by adding three residual blocks compared to TC-ResNet8. TC-ResNet8-1.5 and TC-ResNet14-1.5 are based on TC-ResNet8 and TC-ResNet14 with a channel multiplier of 1.5 expands the model to have 24, 36, 48, 72 number of channels respectively.
\item DS-CNN [8]: DS-CNN utilizes depthwise convolutional layer, which achieve high accuracy when memory and computation resources are constrained. DS-CNN-S, DS-CNN-M, and DS-CNN-L represent small-, medium-, and large-size model, respectively.
\end{itemize}
\subsubH{3.4.2.\ \ Proposed system}
\begin{itemize}
\item TCANet: train the proposed TCANet model with labeled data.
\item TCANet+WVC: pretrain TCANet by the WVC module with unlabeled data and fine-tuned with labeled data.
\item TCANet+LGCSiam: pretrain TCANet by the LGCSiam module with unlabeled data and fine-tuned with labeled data.
\item TCANet+WVC+LGCSiam: firstly, pretrain TCANet by the WVC module. Then, the LGCSiam module is trained with unlabeled data. Finally, fine-tune the whole model with labeled data.
\end{itemize}
\secH{4. Results and Analysis}
\noindent\textbf{Impact of WVC and LGCSiam module pretrained with speech commands dataset}. In table 1, we compare the original TCANet model trained with 100\% and 5\% speech commands dataset and the TCANet+LGCSiam, TCANet+WVC, TCANet+WVC+LGCSiam pretrained with unlabeled speech commands dataset and fine-tuned with 100\% and 5\% labeled data. Compared with supervised TCANet, pretrained models have a significant accuracy gain. The results show that the unsupervised pretraining helps the encoder and decoder to learning useful representation.

\textbf{Impact of WVC and LGCSiam module pretrained with AISHELL dataset}. In table 2, we compare the original TCANet trained with 100\% and 5\% speech commands dataset and the TCANet+LGCSiam, TCANet+WVC, TCANet+WVC+LGCSiam pretrained with unlabeled AISHELL dataset and fine-tuned with 100\% and 5\% labeled speech commands dataset. From the results, we can see the models pretrained with AISHELL dataset also help to get a performance gain. The results show that the self-supervised}

\colnode{p4b}{2991}{106}{%
\noindent pretraining on different domain dataset is useful for fine-tuning the downstream KWS task.

In table 3, the proposed TCANet, TCANet+LGCSiam, TCANet+WVC, TCANet+WVC+LGCSiam are compared with the baseline systems. The results demonstrate the proposed system have a better performance with a smaller model size.}
\colnode{t1c}{2991}{204}{\noindent Table 1: \textit{Comparing the influence of LGCSiam and WVC module for representation learning on Speech Commands (SC) dataset. We show the accuracies of TCANet+LGCSiam, TCANet+WVC and TCANet+WVC+LGCSiam pretrained with 100\% unlabeled SC dataset and fine-tuned with 100\% and 5\% labeled data .}}
\node[anchor=north,inner sep=0pt,font=\bodyfont] (t1) at (3152,316) {\begin{tabular}{@{\hspace{6pt}}lcc@{\hspace{6pt}}}\toprule
\multicolumn{1}{c}{\begin{tabular}{@{}c@{}}pretrained on\\100\% unlabeled SC\end{tabular}} & \begin{tabular}{@{}c@{}}Acc.\\(100\% SC)\end{tabular} & \begin{tabular}{@{}c@{}}Acc.\\(5\% SC)\end{tabular}\\\midrule
TCANet(Without pretrain) & 96.85 & 88.24\\
TCANet+LGCSiam & 96.97 & 89.92\\
TCANet+WVC & 97.45 & 92.3\\
TCANet+WVC+LGCSiam & 97.5 & 92.52\\\bottomrule\end{tabular}};
\colnode{t2c}{2991}{452}{\noindent Table 2: \textit{Comparing the influence of LGCSiam and WVC module for cross-domain representation learning. We show the accuracies of TCANet+LGCSiam, TCANet+WVC and TCANet+WVC+LGCSiam pretrained with 100\% unlabeled AISHELL dataset and fine-tuned with 100\% and 5\% labeled SC data.}}
\node[anchor=north,inner sep=0pt,font=\bodyfont] (t2) at (3152,559) {\begin{tabular}{@{\hspace{6pt}}lcc@{\hspace{6pt}}}\toprule
\multicolumn{1}{c}{\begin{tabular}{@{}c@{}}pretrained on\\100\% unlabeled AISHELL\end{tabular}} & \begin{tabular}{@{}c@{}}Acc.\\(100\% SC)\end{tabular} & \begin{tabular}{@{}c@{}}Acc.\\(5\% SC)\end{tabular}\\\midrule
TCANet(without pretrain) & 96.85 & 88.24\\
TCANet+LGCSiam & 96.96 & 89.09\\
TCANet+WVC & 97.32 & 92.13\\
TCANet+WVC+LGCSiam & 97.45 & 92.33\\\bottomrule\end{tabular}};
\colnode{t3c}{2991}{699}{\noindent Table 3: \textit{Comparison of various KWS models on the Speech Commands dataset.}}
\node[anchor=north,inner sep=0pt,font=\bodyfont] (t3) at (3150,742) {\begin{tabular}{@{\hspace{6pt}}lcc@{\hspace{6pt}}}\toprule
Model & Acc. & Params\\\midrule
DS-CNN-S & 94.4 & 24K\\
DS-CNN-M & 94.9 & 140K\\
DS-CNN-L & 95.4 & 420K\\
TC-ResNet8 & 96.1 & 66K\\
TC-ResNet8-1.5 & 96.2 & 145K\\
TC-ResNet14 & 96.2 & 137K\\
TC-ResNet14-1.5 & 96.6 & 305K\\
TCANet & 96.85 & 65K\\
TCANet+WVC+LGCSiam & 97.5 & 65K\\\bottomrule\end{tabular}};
\colnode{p4c}{2991}{933}{%
{\centering\fontsize{13}{15}\selectfont\bfseries 5. Conclusion\par}\vspace{5pt}
\noindent In this paper, we investigate representation learning for keyword spotting with limited labeled data and limited device resources. We utilize self-training with pretrained acoustic model, and design a contrastive learning structure for keyword spotting. The experiments show the proposed representation learning modules are useful to improve accuracy with a small labeled dataset.}

%================ PAGE 5 =================
\node[anchor=north west,inner sep=0pt] (p5a) at (3474,102) {\begin{minipage}[t]{226pt}\fontsize{8}{8.75}\selectfont
{\centering\fontsize{13}{15}\selectfont\bfseries 6. References\par}\vspace{3pt}
\bibi{1}{S. Sigtia, R. Haynes, H. Richards, E. Marchi, and J. Bridle, ``Efficient voice trigger detection for low resource hardware.'' in \textit{Interspeech}, 2018, pp. 2092--2096.}
\bibi{2}{M. Sun, D. Snyder, Y. Gao, V. K. Nagaraja, M. Rodehorst, S. Panchapagesan, N. Strom, S. Matsoukas, and S. Vitaladevuni, ``Compressed time delay neural network for small-footprint keyword spotting.'' in \textit{Interspeech}, 2017, pp. 3607--3611.}
\bibi{3}{G. Chen, C. Parada, and G. Heigold, ``Small-footprint keyword spotting using deep neural networks,'' in \textit{2014 IEEE International Conference on Acoustics, Speech and Signal Processing (ICASSP)}.\quad IEEE, 2014, pp. 4087--4091.}
\bibi{4}{S. Panchapagesan, M. Sun, A. Khare, S. Matsoukas, A. Mandal, B. Hoffmeister, and S. Vitaladevuni, ``Multi-task learning and weighted cross-entropy for dnn-based keyword spotting.'' in \textit{Interspeech}, vol. 9, 2016, pp. 760--764.}
\bibi{5}{Y. Bai, J. Yi, J. Tao, Z. Wen, Z. Tian, C. Zhao, and C. Fan, ``A time delay neural network with shared weight self-attention for small-footprint keyword spotting.'' in \textit{INTERSPEECH}, 2019, pp. 2190--2194.}
\bibi{6}{Y. Zhuang, X. Chang, Y. Qian, and K. Yu, ``Unrestricted vocabulary keyword spotting using lstm-ctc.'' in \textit{Interspeech}, 2016, pp. 938--942.}
\bibi{7}{C. Yang, X. Wen, and L. Song, ``Multi-scale convolution for robust keyword spotting.'' in \textit{INTERSPEECH}, 2020, pp. 2577--2581.}
\bibi{8}{Y. Zhang, N. Suda, L. Lai, and V. Chandra, ``Hello edge: Keyword spotting on microcontrollers,'' \textit{arXiv preprint arXiv:1711.07128}, 2017.}
\bibi{9}{G. Tucker, M. Wu, M. Sun, S. Panchapagesan, G. Fu, and S. Vitaladevuni, ``Model compression applied to small-footprint keyword spotting.'' in \textit{Interspeech}, 2016, pp. 1878--1882.}
\bibi{10}{A. Coucke, M. Chlieh, T. Gisselbrecht, D. Leroy, M. Poumeyrol, and T. Lavril, ``Efficient keyword spotting using dilated convolutions and gating,'' in \textit{ICASSP 2019-2019 IEEE International Conference on Acoustics, Speech and Signal Processing (ICASSP)}.\quad IEEE, 2019, pp. 6351--6355.}
\bibi{11}{S. Choi, S. Seo, B. Shin, H. Byun, M. Kersner, B. Kim, D. Kim, and S. Ha, ``Temporal convolution for real-time keyword spotting on mobile devices,'' \textit{arXiv preprint arXiv:1904.03814}, 2019.}
\bibi{12}{J. Devlin, M.-W. Chang, K. Lee, and K. Toutanova, ``Bert: Pre-training of deep bidirectional transformers for language understanding,'' \textit{arXiv preprint arXiv:1810.04805}, 2018.}
\bibi{13}{A. Baevski, Y. Zhou, A. Mohamed, and M. Auli, ``wav2vec 2.0: A framework for self-supervised learning of speech representations,'' \textit{Advances in Neural Information Processing Systems}, vol. 33, pp. 12\,449--12\,460, 2020.}
\bibi{14}{A. Van den Oord, Y. Li, O. Vinyals \textit{et al.}, ``Representation learning with contrastive predictive coding,'' \textit{arXiv preprint arXiv:1807.03748}, vol. 2, no. 3, p. 4, 2018.}
\bibi{15}{S. Schneider, A. Baevski, R. Collobert, and M. Auli, ``wav2vec: Unsupervised pre-training for speech recognition,'' \textit{arXiv preprint arXiv:1904.05862}, 2019.}
\bibi{16}{W.-N. Hsu, Y.-H. H. Tsai, B. Bolte, R. Salakhutdinov, and A. Mohamed, ``Hubert: How much can a bad teacher benefit asr pre-training?'' in \textit{ICASSP 2021-2021 IEEE International Conference on Acoustics, Speech and Signal Processing (ICASSP)}.\quad IEEE, 2021, pp. 6533--6537.}
\bibi{17}{M. Huang, Y. You, Z. Chen, Y. Qian, and K. Yu, ``Knowledge distillation for sequence model.'' in \textit{Interspeech}, 2018, pp. 3703--3707.}
\bibi{18}{M. Mazumder, C. Banbury, J. Meyer, P. Warden, and V. J. Reddi, ``Few-shot keyword spotting in any language,'' \textit{arXiv preprint arXiv:2104.01454}, 2021.}
\bibi{19}{T. Chen, S. Kornblith, M. Norouzi, and G. Hinton, ``A simple framework for contrastive learning of visual representations,'' in \textit{International conference on machine learning}.\quad PMLR, 2020, pp. 1597--1607.}
\end{minipage}};
\node[anchor=north west,inner sep=0pt] (p5b) at (3839,110) {\begin{minipage}[t]{226pt}\fontsize{8}{8.75}\selectfont
\bibi{20}{X. Chen and K. He, ``Exploring simple siamese representation learning,'' in \textit{Proceedings of the IEEE/CVF Conference on Computer Vision and Pattern Recognition}, 2021, pp. 15\,750--15\,758.}
\bibi{21}{A. Vaswani, N. Shazeer, N. Parmar, J. Uszkoreit, L. Jones, A. N. Gomez, Ł. Kaiser, and I. Polosukhin, ``Attention is all you need,'' \textit{Advances in neural information processing systems}, vol. 30, 2017.}
\bibi{22}{P. Warden, ``Speech commands: A dataset for limited-vocabulary speech recognition,'' \textit{arXiv preprint arXiv:1804.03209}, 2018.}
\bibi{23}{H. Bu, J. Du, X. Na, B. Wu, and H. Zheng, ``Aishell-1: An open-source mandarin speech corpus and a speech recognition baseline,'' in \textit{2017 20th Conference of the Oriental Chapter of the International Coordinating Committee on Speech Databases and Speech I/O Systems and Assessment (O-COCOSDA)}.\quad IEEE, 2017, pp. 1--5.}
\bibi{24}{A. Paszke, S. Gross, F. Massa, A. Lerer, J. Bradbury, G. Chanan, T. Killeen, Z. Lin, N. Gimelshein, L. Antiga \textit{et al.}, ``Pytorch: An imperative style, high-performance deep learning library,'' \textit{Advances in neural information processing systems}, vol. 32, 2019.}
\bibi{25}{D. S. Park, W. Chan, Y. Zhang, C.-C. Chiu, B. Zoph, E. D. Cubuk, and Q. V. Le, ``Specaugment: A simple data augmentation method for automatic speech recognition,'' \textit{arXiv preprint arXiv:1904.08779}, 2019.}
\end{minipage}};
\end{tikzpicture}
\end{document}
